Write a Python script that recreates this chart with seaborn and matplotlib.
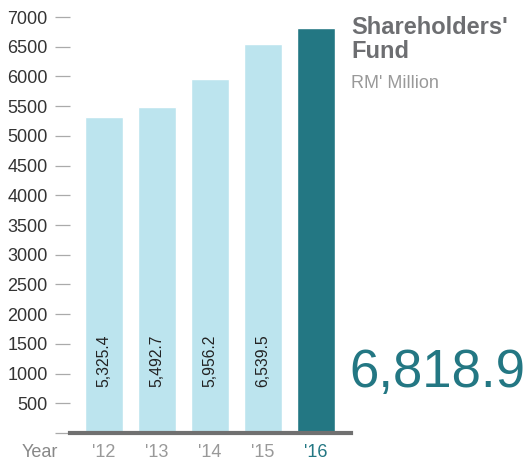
import matplotlib
matplotlib.use("Agg")
import matplotlib.pyplot as plt
import seaborn as sns
import pandas as pd

years = ["'12", "'13", "'14", "'15", "'16"]
values = [5325.4, 5492.7, 5956.2, 6539.5, 6818.9]
value_labels = ["5,325.4", "5,492.7", "5,956.2", "6,539.5"]
y_ticks = list(range(0, 7001, 500))
y_tick_labels = [""] + [str(v) for v in y_ticks[1:]]

LIGHT = "#bce4ee"
TEAL = "#237783"
GREY = "#6d6e71"

sns.set_style("white")
plt.rcParams["font.family"] = ["Liberation Sans", "DejaVu Sans"]

df = pd.DataFrame({"year": years, "value": values})

fig = plt.figure(figsize=(5.29, 4.61), dpi=100)
ax = fig.add_axes([70 / 529, 28 / 461, 281 / 529, 423 / 461])

sns.barplot(data=df, x="year", y="value", hue="year",
            palette=[LIGHT] * 4 + [TEAL], width=0.717,
            legend=False, ax=ax, saturation=1)

for i, lbl in enumerate(value_labels):
    ax.text(i, 1220, lbl, rotation=90, ha="center", va="center",
            fontsize=11.3, color="#222222")

ax.set_xlim(-0.64, 4.66)
ax.set_ylim(0, 7118)
ax.set_yticks(y_ticks)
ax.set_yticklabels(y_tick_labels)
ax.set_xlabel("")
ax.set_ylabel("")

for s in ["top", "right", "left"]:
    ax.spines[s].set_visible(False)
ax.spines["bottom"].set_color("#707070")
ax.spines["bottom"].set_linewidth(3)

ax.tick_params(axis="y", length=11, width=0.9, color="#aaaaaa", pad=5,
               labelsize=13, labelcolor="#333333", left=True)
ax.tick_params(axis="x", length=0, pad=8, labelsize=13, labelcolor="#999999")
ax.get_xticklabels()[-1].set_color(TEAL)

fig.text(40 / 529, 1 - 452 / 461, "Year", ha="center", va="center",
         fontsize=13, color="#888888")

fig.text(351 / 529, 1 - 16 / 461, "Shareholders'\nFund", ha="left", va="top",
         fontsize=17, fontweight="bold", color=GREY, linespacing=1.05)
fig.text(351 / 529, 1 - 84 / 461, "RM' Million", ha="left", va="center",
         fontsize=13, color="#999999")
fig.text(349 / 529, 1 - 387 / 461, "6,818.9", ha="left", va="baseline",
         fontsize=38, color=TEAL)

fig.savefig("out.png", dpi=100)
